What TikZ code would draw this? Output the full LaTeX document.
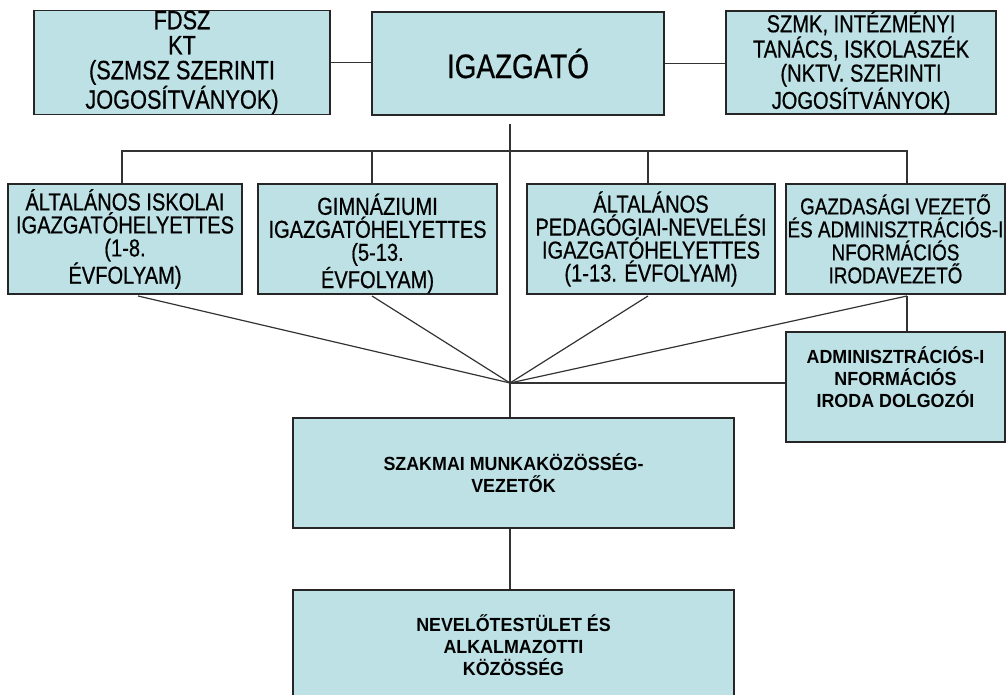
\documentclass[tikz,border=0pt]{standalone}
\usepackage{fontspec}
\setmainfont{Liberation Sans}
\newfontfamily\narrowsans[FakeStretch=0.82,FakeBold=0.6]{Liberation Sans}
\newfontfamily\boldsans[FakeStretch=0.94]{Liberation Sans Bold}
\definecolor{boxfill}{RGB}{189,225,229}
\definecolor{boxline}{RGB}{38,38,38}
\definecolor{wirecol}{RGB}{51,51,51}

\begin{document}
\begin{tikzpicture}[x=1pt,y=1pt,
    unit/.style={draw=boxline, fill=boxfill, line width=1.4pt, inner sep=0pt,
      align=center, minimum height=110pt},
    toprow/.style={font=\narrowsans\fontsize{26.5}{25}\selectfont},
    midrow/.style={font=\narrowsans\fontsize{24.5}{23}\selectfont},
    lowrow/.style={font=\boldsans\fontsize{19}{22}\selectfont},
    wire/.style={draw=wirecol, line width=1.2pt}]
  \useasboundingbox (0,0) rectangle (1007,695);
  % top row
  \node[unit, toprow, minimum width=296pt, minimum height=101pt] (fdsz) at (182,632.5)
    {FDSZ\\KT\\(SZMSZ SZERINTI\\JOGOSÍTVÁNYOK)};
  \node[unit, font=\narrowsans\fontsize{34}{38}\selectfont, minimum width=292pt,
    minimum height=103pt] (igaz) at (518,631.5) {IGAZGATÓ};
  \node[unit, toprow, font=\narrowsans\fontsize{24.5}{24}\selectfont, minimum width=270pt,
    minimum height=101pt] (szmk) at (861,632.5)
    {SZMK, INTÉZMÉNYI\\TANÁCS, ISKOLASZÉK\\(NKTV. SZERINTI\\JOGOSÍTVÁNYOK)};
  % deputies
  \node[unit, midrow, minimum width=234pt] (gen) at (125,456)
    {ÁLTALÁNOS ISKOLAI\\IGAZGATÓHELYETTES\\(1-8.\\ÉVFOLYAM)};
  \node[unit, midrow, minimum width=239pt] (gim) at (377.5,456)
    {\rule{0pt}{30pt}GIMNÁZIUMI\\IGAZGATÓHELYETTES\\(5-13.\\ÉVFOLYAM)};
  \node[unit, midrow, minimum width=248pt] (ped) at (651,456)
    {ÁLTALÁNOS\\PEDAGÓGIAI-NEVELÉSI\\IGAZGATÓHELYETTES\\(1-13. ÉVFOLYAM)};
  \node[unit, midrow, font=\narrowsans\fontsize{23}{23}\selectfont, minimum width=219pt]
    (gaz) at (895.5,456)
    {GAZDASÁGI VEZETŐ\\ÉS ADMINISZTRÁCIÓS-I\\NFORMÁCIÓS\\IRODAVEZETŐ};
  % lower part
  \node[unit, lowrow, minimum width=219pt] (adm) at (895.5,308)
    {ADMINISZTRÁCIÓS-I\\NFORMÁCIÓS\\IRODA DOLGOZÓI\rule[-19pt]{0pt}{1pt}};
  \node[unit, lowrow, minimum width=441pt] (sza) at (513.5,222)
    {SZAKMAI MUNKAKÖZÖSSÉG-\\VEZETŐK};
  \node[unit, lowrow, minimum width=441pt] (nev) at (513.5,50)
    {NEVELŐTESTÜLET ÉS\\ALKALMAZOTTI\\KÖZÖSSÉG};

  \coordinate (hub) at (510,312);
  \coordinate (c1) at (122,544);
  \coordinate (c2) at (372,544);
  \coordinate (c3) at (648,544);
  \coordinate (c4) at (907,544);
  \coordinate (f1) at (138,399);
  \coordinate (f2) at (372,399);
  \coordinate (f3) at (648,399);
  \coordinate (f4) at (907,399);

  \draw[wire] (fdsz.east) -- (fdsz.east -| igaz.west);
  \draw[wire] (igaz.east) -- (igaz.east -| szmk.west);
  \draw[wire] ([yshift=-8pt]igaz.south -| hub) -- (hub) -- (sza.north -| hub);
  \draw[wire] (gen.north -| c1) -- (c1) -- (c4) -- (gaz.north -| c4);
  \draw[wire] (gim.north -| c2) -- (c2);
  \draw[wire] (ped.north -| c3) -- (c3);
  \foreach \f in {f1,f2,f3,f4}
    \draw[wire] (\f) -- (hub);
  \draw[wire] (f4) -- (adm.north -| f4);
  \draw[wire] (hub) -- (hub -| adm.west);
  \draw[wire] (sza.south -| hub) -- (nev.north -| hub);
\end{tikzpicture}
\end{document}
